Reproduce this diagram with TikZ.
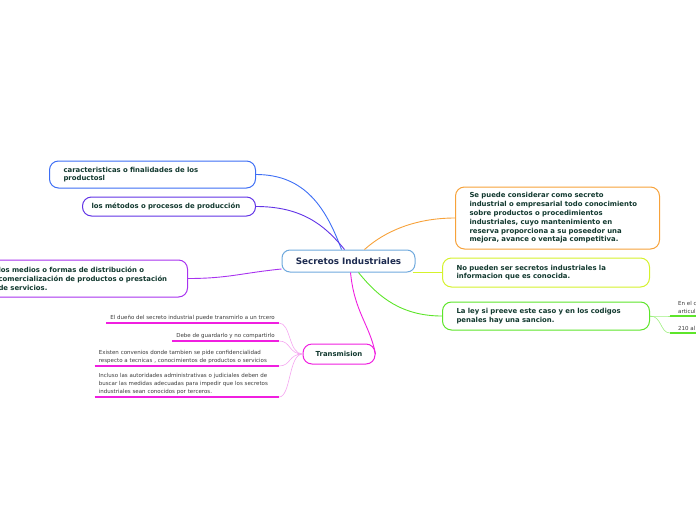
\documentclass[tikz,border=0pt]{standalone}
\usepackage{fontspec}
\setmainfont{DejaVu Sans}
\usepackage{tikz}
\definecolor{blueC}{RGB}{61,110,245}
\definecolor{purpC}{RGB}{98,52,230}
\definecolor{violC}{RGB}{168,50,239}
\definecolor{oranC}{RGB}{247,162,58}
\definecolor{yelC}{RGB}{213,242,44}
\definecolor{greC}{RGB}{93,229,42}
\definecolor{magC}{RGB}{240,31,224}
\definecolor{pinkL}{RGB}{245,166,240}
\definecolor{hubC}{RGB}{111,169,221}
\definecolor{txtgreen}{RGB}{18,57,47}
\definecolor{navy}{RGB}{29,43,80}
\definecolor{leafgray}{RGB}{58,58,58}
\tikzset{
  topic/.style={draw, fill=white, rounded corners=9pt, line width=1pt, align=left,
    text=txtgreen, font=\fontsize{6.9}{8.8}\selectfont\bfseries,
    inner xsep=14pt, inner ysep=0pt, anchor=west},
  hub/.style={draw=hubC, fill=white, rounded corners=8pt, line width=1pt,
    text=navy, font=\fontsize{8.8}{10}\selectfont\bfseries,
    minimum width=133pt, minimum height=22pt},
  leaf/.style={inner xsep=4pt, inner ysep=2.5pt, align=left, text=leafgray,
    font=\fontsize{5.5}{7.6}\selectfont, anchor=south east},
  branch/.style={line width=0.9pt},
  twig/.style={line width=0.6pt},
  underl/.style={line width=1.6pt}
}
\begin{document}
\begin{tikzpicture}[x=1pt, y=-1pt]
    \useasboundingbox (0,0) rectangle (696,520);

    %% central topic
    \node[hub] (sec) at (348.5,261) {Secretos Industriales};

    %% left topics
    \node[topic, draw=blueC, text width=178pt, minimum height=27pt] (car) at (49,174.5)
      {caracteristicas o finalidades de los\\productosl};
    \node[topic, draw=purpC, text width=155pt, minimum height=19pt, inner xsep=9pt] (met) at (82,206.5)
      {los métodos o procesos de producción};
    \node[topic, draw=violC, text width=175pt, minimum height=37pt] (dist) at (-16,278.5)
      {los medios o formas de distribución o\\comercialización de productos o prestación\\de servicios.};

    %% right topics
    \node[topic, draw=oranC, text width=176pt, minimum height=62pt] (cons) at (455,218)
      {Se puede considerar como secreto\\industrial o empresarial todo conocimiento\\sobre productos o procedimientos\\industriales, cuyo mantenimiento en\\reserva proporciona a su poseedor una\\mejora, avance o ventaja competitiva.};
    \node[topic, draw=yelC, text width=179pt, minimum height=29pt] (nop) at (442,272.5)
      {No pueden ser secretos industriales la\\informacion que es conocida.};
    \node[topic, draw=greC, text width=179pt, minimum height=28pt] (ley) at (442,316)
      {La ley si preeve este caso y en los codigos\\penales hay una sancion.};

    %% transmision and its leaves
    \node[topic, draw=magC, anchor=center, align=center, inner xsep=0pt,
      minimum width=72pt, minimum height=20pt, font=\fontsize{6.9}{8}\selectfont\bfseries]
      (tra) at (339,354) {Transmision};
    \node[leaf] (l1) at (279,323) {El dueño del secreto industrial puede transmirlo a un trcero};
    \node[leaf] (l2) at (279,341) {Debe de guardarlo y no compartirlo};
    \node[leaf, text width=176pt] (l3) at (279,366)
      {Existen convenios donde tambien se pide confidencialidad\\respecto a tecnicas , conocimientos de productos o servicios};
    \node[leaf, text width=176pt] (l4) at (279,397)
      {Incluso las autoridades administrativas o judiciales deben de\\buscar las medidas adecuadas para impedir que los secretos\\industriales sean conocidos por terceros.};

    %% leaves of the law topic (cut by the page edge)
    \node[leaf, anchor=south west, inner xsep=8pt] (g1) at (670,316) {En el c\\articul};
    \node[leaf, anchor=south west, inner xsep=8pt] (g2) at (670,333) {210 al};

    %% hub points
    \coordinate (hubA) at ([xshift=-7pt]sec.north);
    \coordinate (hubB) at ([xshift=-4pt]sec.north);
    \coordinate (hubC) at ([xshift=16pt]sec.north);
    \coordinate (hubW) at ([yshift=-8pt]sec.west);
    \coordinate (hubE) at ([xshift=-3pt]sec.south east);
    \coordinate (hubS) at ([xshift=10pt]sec.south);
    \coordinate (hubT) at ([xshift=2pt]sec.south);

    %% branches
    \draw[branch, blueC] (car.east) .. controls +(50,0) and +(-15,-40) .. (hubA);
    \draw[branch, purpC] (met.east) .. controls +(45,0) and +(-20,-25) .. (hubB);
    \draw[branch, violC] (dist.east) .. controls +(40,0) and +(-40,4) .. (hubW);
    \draw[branch, oranC] (hubC) .. controls +(20,-18) and +(-40,0) .. (cons.west);
    \draw[branch, yelC] (hubE) .. controls +(12,0) and +(-12,0) .. (nop.west);
    \draw[branch, greC] (hubS) .. controls +(20,25) and +(-40,0) .. (ley.west);
    \draw[branch, magC] (hubT) .. controls +(4,40) and +(-6,-30) .. (tra.east);

    %% leaf twigs and underlines
    \foreach \n in {l1,l2,l3,l4} {
      \draw[twig, pinkL] (tra.west) .. controls +(-14,0) and +(12,0) .. (\n.south east);
      \draw[underl, magC] (\n.south west) -- (\n.south east);
    }
    \foreach \n in {g1,g2} {
      \draw[twig, greC!60] (ley.east) .. controls +(12,0) and +(-10,0) .. (\n.south west);
      \draw[underl, greC] (\n.south west) -- ++(40,0);
    }
\end{tikzpicture}
\end{document}
